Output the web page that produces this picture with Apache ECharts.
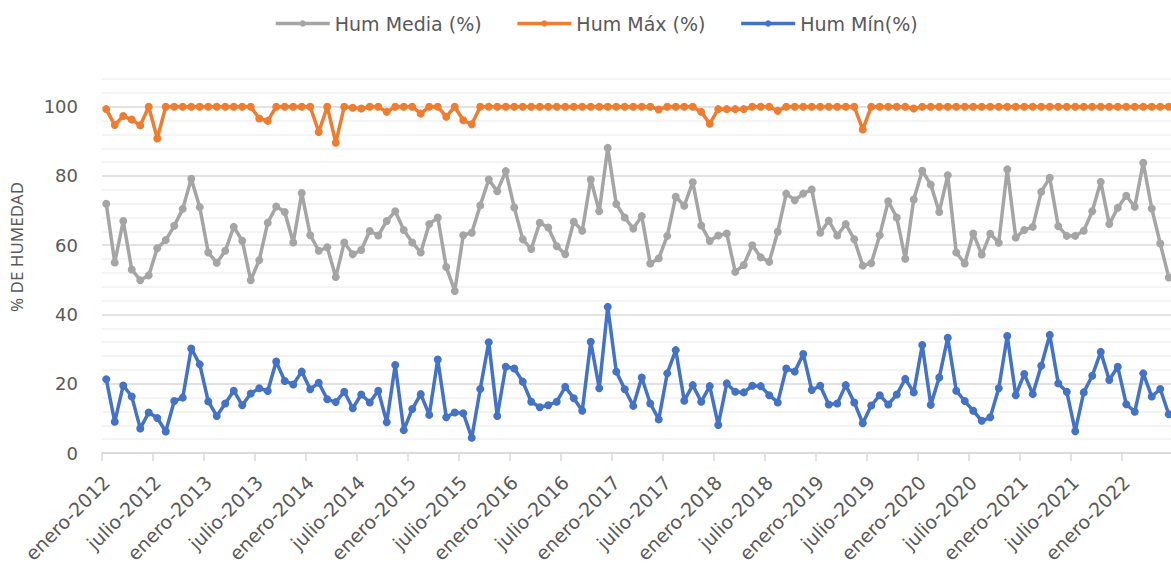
<!DOCTYPE html>
<html>
<head>
<meta charset="utf-8">
<script src="https://cdn.jsdelivr.net/npm/echarts@6/dist/echarts.min.js"></script>
<style>
  html, body { margin: 0; padding: 0; background: #fff; }
  #chart { width: 1171px; height: 565px; }
</style>
</head>
<body>
<div id="chart"></div>
<script>
// meses y años del eje (enero-2012 .. junio-2022)
const meses = ['enero', 'febrero', 'marzo', 'abril', 'mayo', 'junio',
  'julio', 'agosto', 'septiembre', 'octubre', 'noviembre', 'diciembre'];
const anioInicio = 2012;
const numMeses = 126;

const humMedia = [
  72.0, 55.0, 67.0, 53.0, 49.9, 51.3, 59.1, 61.5, 65.6, 70.5, 79.2, 71.0, 57.9, 54.9, 58.4, 65.3, 61.3, 49.9, 55.7, 66.5, 71.2,
  69.6, 60.8, 75.1, 62.9, 58.4, 59.4, 50.8, 60.8, 57.4, 58.6, 64.1, 62.8, 67.0, 69.8, 64.4, 60.8, 57.9, 66.1, 68.0, 53.7, 46.8,
  62.9, 63.6, 71.5, 79.0, 75.6, 81.4, 70.9, 61.7, 58.9, 66.5, 65.1, 59.7, 57.4, 66.8, 64.2, 79.0, 69.8, 88.1, 71.9, 68.0, 64.8,
  68.4, 54.7, 56.2, 62.7, 74.0, 71.4, 78.2, 65.7, 61.2, 62.8, 63.4, 52.3, 54.3, 60.0, 56.5, 55.2, 63.9, 74.9, 73.0, 74.9, 76.1,
  63.6, 67.1, 62.8, 66.1, 61.7, 54.1, 54.8, 62.9, 72.7, 68.0, 56.1, 73.2, 81.5, 77.5, 69.6, 80.2, 57.9, 54.7, 63.4, 57.3, 63.3,
  60.7, 81.9, 62.2, 64.4, 65.3, 75.4, 79.5, 65.5, 62.7, 62.7, 64.2, 69.8, 78.3, 66.1, 70.8, 74.3, 71.1, 83.8, 70.6, 60.5, 50.7
];

const humMax = [
  99.3, 94.7, 97.3, 96.3, 94.6, 100, 90.8, 100, 100, 100, 100, 100, 100, 100, 100, 100, 100, 100, 96.6, 95.9, 100,
  100, 100, 100, 100, 92.7, 100, 89.6, 100, 99.7, 99.5, 100, 100, 98.5, 100, 100, 100, 98.0, 100, 100, 97.1, 100,
  96.1, 94.9, 100, 100, 100, 100, 100, 100, 100, 100, 100, 100, 100, 100, 100, 100, 100, 100, 100, 100, 100,
  100, 100, 99.2, 100, 100, 100, 100, 98.5, 95.1, 99.3, 99.3, 99.3, 99.3, 100, 100, 100, 98.8, 100, 100, 100, 100,
  100, 100, 100, 100, 100, 93.4, 100, 100, 100, 100, 100, 99.5, 100, 100, 100, 100, 100, 100, 100, 100, 100,
  100, 100, 100, 100, 100, 100, 100, 100, 100, 100, 100, 100, 100, 100, 100, 100, 100, 100, 100, 100, 100
];

const humMin = [
  21.3, 9.0, 19.5, 16.3, 7.1, 11.7, 10.1, 6.2, 15.0, 16.0, 30.2, 25.6, 14.9, 10.7, 14.3, 18.0, 13.8, 17.2, 18.7, 17.9, 26.4,
  20.8, 19.8, 23.5, 18.4, 20.3, 15.5, 14.7, 17.7, 12.9, 16.9, 14.6, 18.0, 8.9, 25.4, 6.6, 12.7, 17.0, 11.0, 27.0, 10.3, 11.7,
  11.5, 4.4, 18.5, 32.0, 10.7, 24.9, 24.4, 20.6, 14.8, 13.2, 13.8, 14.8, 19.1, 15.8, 12.2, 32.1, 18.7, 42.2, 23.5, 18.4, 13.6,
  21.8, 14.3, 9.7, 23.0, 29.7, 15.1, 19.6, 14.8, 19.3, 8.1, 20.1, 17.7, 17.5, 19.4, 19.3, 16.7, 14.6, 24.4, 23.5, 28.6, 18.2,
  19.4, 14.0, 14.3, 19.6, 14.6, 8.6, 13.7, 16.7, 14.0, 16.9, 21.4, 17.5, 31.2, 13.9, 21.8, 33.3, 18.0, 15.0, 12.2, 9.3, 10.3,
  18.7, 33.8, 16.7, 22.8, 17.0, 25.2, 34.1, 20.1, 17.7, 6.3, 17.5, 22.3, 29.2, 21.1, 24.9, 14.1, 11.9, 23.0, 16.3, 18.5, 11.2
];

const categorias = [];
for (let i = 0; i < numMeses; i++) {
  categorias.push(meses[i % 12] + '-' + (anioInicio + Math.floor(i / 12)));
}

const textColor = '#595959';
const chart = echarts.init(document.getElementById('chart'), null, { renderer: 'svg' });

function serie(name, data, color) {
  return {
    name: name,
    type: 'line',
    data: data,
    symbol: 'circle',
    symbolSize: 8,
    showAllSymbol: true,
    lineStyle: { color: color, width: 3.5 },
    itemStyle: { color: color },
  };
}

const option = {
  animation: false,
  textStyle: { fontFamily: 'DejaVu Sans' },
  legend: {
    left: 269,
    top: 9,
    itemGap: 34,
    itemWidth: 54,
    itemHeight: 8,
    lineStyle: { width: 3.5 },
    textStyle: { fontSize: 19, color: textColor, fontFamily: 'DejaVu Sans' },
    data: ['Hum Media (%)', 'Hum Máx (%)', 'Hum Mín(%)'],
  },
  grid: {
    left: 102,
    top: 79,
    width: 1071,
    height: 374,
    outerBoundsMode: 'none',
    containLabel: false,
  },
  xAxis: {
    type: 'category',
    data: categorias,
    boundaryGap: true,
    axisLine: { lineStyle: { color: '#d9d9d9', width: 1.5 } },
    axisTick: { show: true, interval: 5, length: 8, lineStyle: { color: '#d9d9d9', width: 1.5 } },
    axisLabel: {
      interval: 5,
      rotate: 45,
      margin: 26,
      fontSize: 19,
      color: textColor,
      fontFamily: 'DejaVu Sans',
      hideOverlap: false,
    },
  },
  yAxis: {
    type: 'value',
    min: 0,
    max: 108,
    interval: 4,
    name: '% DE HUMEDAD',
    nameLocation: 'middle',
    nameGap: 77,
    nameRotate: 90,
    nameTextStyle: { fontSize: 17, color: textColor, fontFamily: 'Noto Sans', padding: [0, 0, 0, 38] },
    axisLine: { show: false },
    axisTick: { show: false },
    axisLabel: {
      margin: 24,
      fontSize: 18,
      color: textColor,
      fontFamily: 'DejaVu Sans',
      formatter: (v) => (v % 20 === 0 ? String(v) : ''),
    },
    splitLine: {
      lineStyle: { color: ['#d9d9d9', '#f0f0f0', '#f0f0f0', '#f0f0f0', '#f0f0f0'], width: 1.5 },
    },
  },
  series: [
    serie('Hum Media (%)', humMedia, '#A5A5A5'),
    serie('Hum Máx (%)', humMax, '#ED7D31'),
    serie('Hum Mín(%)', humMin, '#4472C4'),
  ],
};

chart.setOption(option);
</script>
</body>
</html>
